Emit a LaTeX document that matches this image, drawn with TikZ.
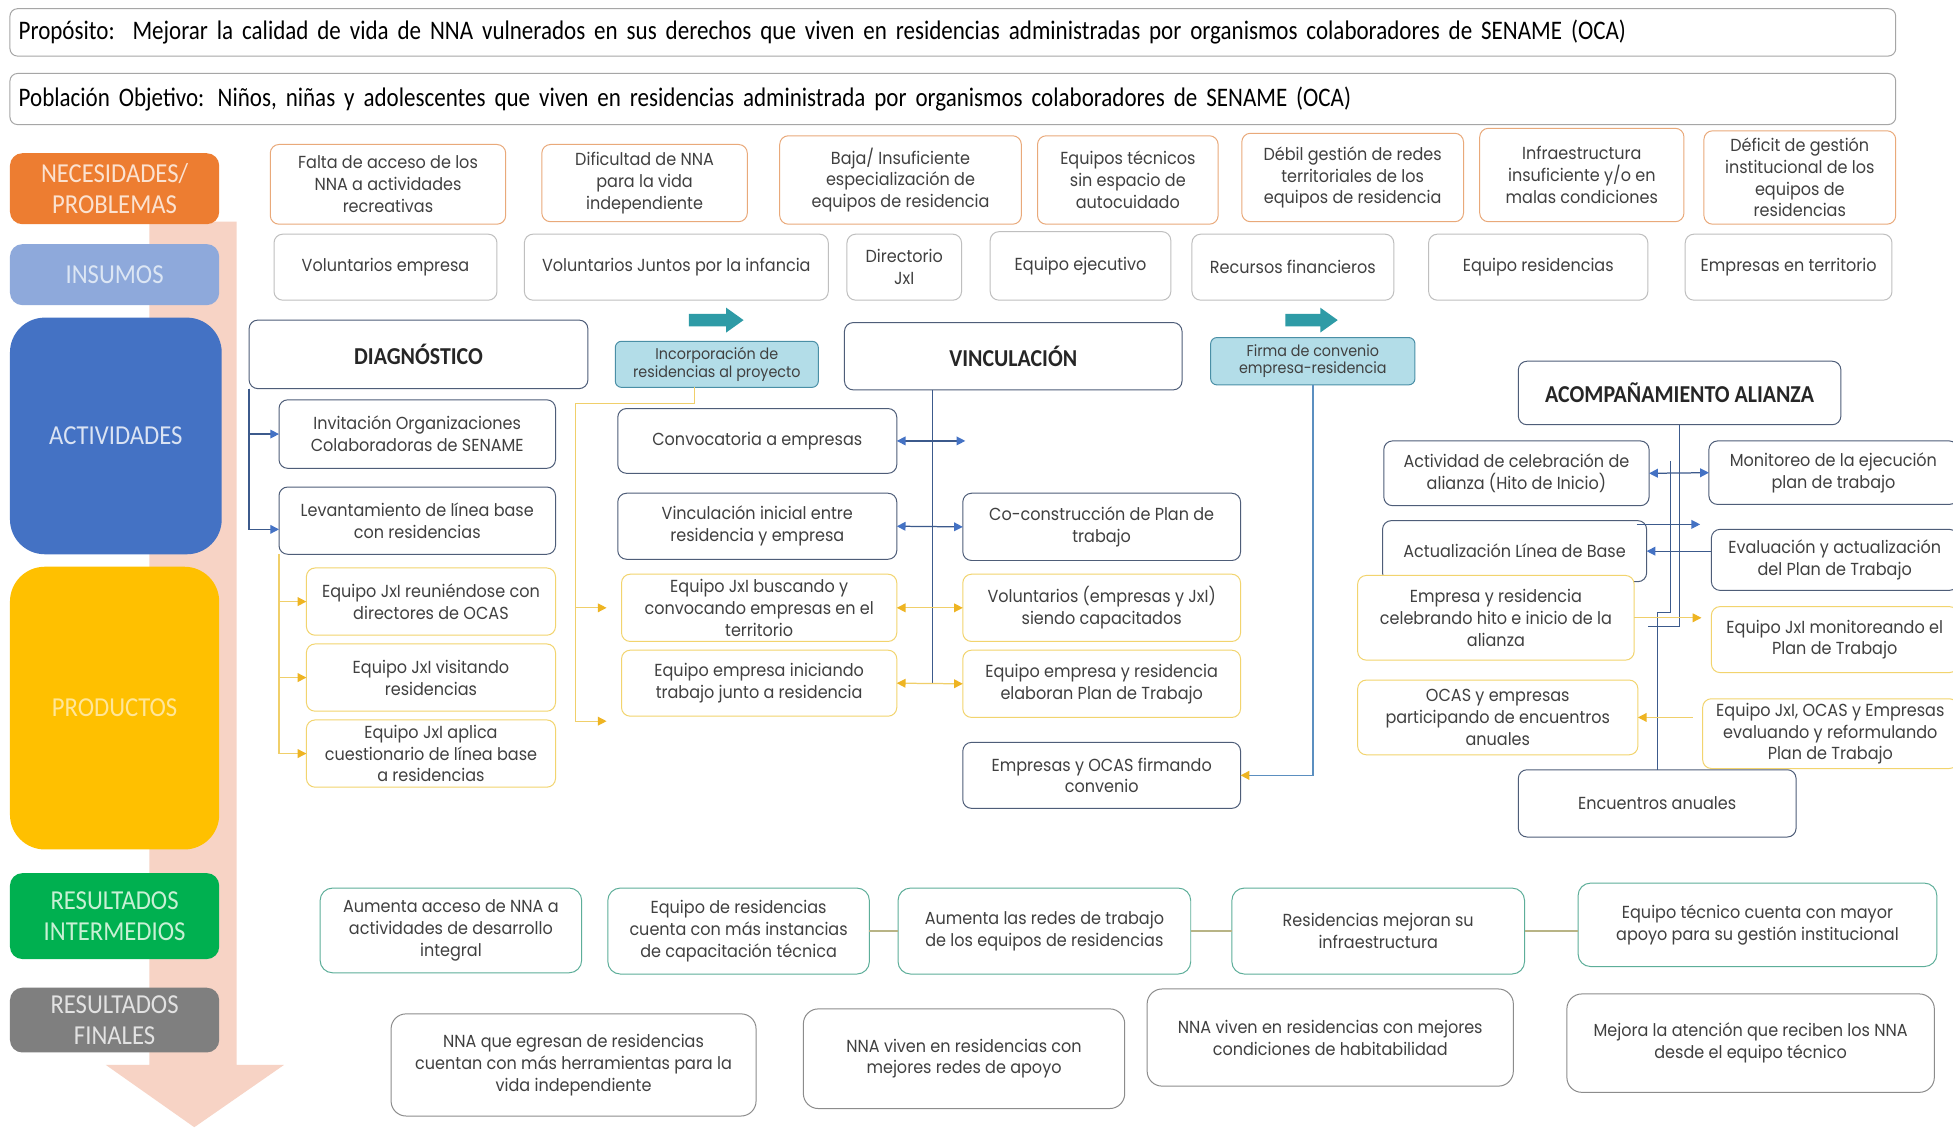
\documentclass[tikz,border=0pt]{standalone}
\usepackage{fontspec}
\setmainfont{Poppins}[FakeStretch=0.92]
\newfontfamily\calf{Carlito}[FakeStretch=0.9]
\newfontfamily\calb{Carlito}[FakeStretch=0.86]
\usetikzlibrary{arrows.meta,calc}
\definecolor{txt}{HTML}{404040}
\definecolor{needc}{HTML}{E9A97A}
\definecolor{insc}{HTML}{BFBFBF}
\definecolor{actc}{HTML}{4E5D78}
\definecolor{prodc}{HTML}{F2D46E}
\definecolor{lbd}{HTML}{4A8FA6}
\definecolor{lbf}{HTML}{B3DDE8}
\definecolor{ric}{HTML}{5DAE99}
\definecolor{rfc}{HTML}{8C8C8C}
\definecolor{barc}{HTML}{A6A6A6}
\definecolor{cO}{HTML}{ED7D31}\definecolor{tO}{HTML}{FBE2D0}
\definecolor{cI}{HTML}{8EA9DB}\definecolor{tI}{HTML}{DCE6F4}
\definecolor{cA}{HTML}{4472C4}\definecolor{tA}{HTML}{DAE3F3}
\definecolor{cP}{HTML}{FFC000}\definecolor{tP}{HTML}{FFE699}
\definecolor{cG}{HTML}{00B050}\definecolor{tG}{HTML}{C8F0D4}
\definecolor{cF}{HTML}{7F7F7F}\definecolor{tF}{HTML}{E2E2E2}
\definecolor{pinkar}{HTML}{F7D3C5}
\definecolor{tealar}{HTML}{2E9BA6}
\definecolor{lnb}{HTML}{3C5A8C}
\definecolor{tipb}{HTML}{4472C4}
\definecolor{lny}{HTML}{F0CF6A}
\definecolor{tipy}{HTML}{EEB422}
\definecolor{lnl}{HTML}{5B8FC0}
\definecolor{lng}{HTML}{B8B486}
\newcommand\bx[7]{\node[#6,minimum width={(#4-#2)*1pt},minimum height={(#5-#3)*1pt}] (#1) at ({(#2+#4)/2},{(#3+#5)/2}) {#7};}
\begin{document}
\begin{tikzpicture}[x=1pt,y=-1pt,
  base/.style={draw, fill=white, rounded corners=7pt, inner sep=0pt, outer sep=0pt, align=center, text=txt, font=\fontsize{14}{17.5}\selectfont, line width=0.8pt},
  need/.style={base, draw=needc},
  ins/.style={base, draw=insc},
  actb/.style={base, draw=actc},
  prod/.style={base, draw=prodc},
  head/.style={base, draw=actc, font=\calf\bfseries\fontsize{19.5}{22}\selectfont, text=black!85},
  lbx/.style={base, draw=lbd, fill=lbf, rounded corners=5pt, font=\fontsize{12.5}{14}\selectfont},
  rib/.style={base, draw=ric, rounded corners=10pt},
  rfb/.style={base, draw=rfc, rounded corners=12pt},
  lab/.style={rounded corners=10pt, inner sep=0pt, outer sep=0pt, align=center, font=\calf\fontsize{22}{25}\selectfont},
  bar/.style={draw=barc, fill=white, rounded corners=6pt, line width=0.8pt, inner sep=0pt, outer sep=0pt, text=black, text width=1500pt, align=left, font=\calb\fontsize{21.5}{24}\selectfont},
  cb/.style={draw=lnb, line width=1pt},
  cy/.style={draw=lny, line width=1pt},
  cn/.style={draw=lnb, line width=0.9pt},
  cl/.style={draw=lnl, line width=1.2pt},
  cg/.style={draw=lng, line width=1.2pt},
  tb/.style={-{Triangle[length=7pt,width=7pt,color=tipb]}},
  tbb/.style={{Triangle[length=7pt,width=7pt,color=tipb]}-{Triangle[length=7pt,width=7pt,color=tipb]}},
  ty/.style={-{Triangle[length=7pt,width=7pt,color=tipy]}},
  tyy/.style={{Triangle[length=7pt,width=7pt,color=tipy]}-{Triangle[length=7pt,width=7pt,color=tipy]}},
]
\clip (0,0) rectangle (1568,905);
\fill[white] (0,0) rectangle (1568,905);
% big pink arrow
\fill[pinkar] (120,178) -- (190,178) -- (190,855) -- (228,855) -- (156,905) -- (85,855) -- (120,855) -- cycle;
% top bars
\bx{prop}{8}{7}{1522}{45}{bar}{Propósito:\ \ Mejorar la calidad de vida de NNA vulnerados en sus derechos que viven en residencias administradas por organismos colaboradores de SENAME (OCA)}
\bx{pobl}{8}{59}{1522}{100}{bar}{Población Objetivo: Niños, niñas y adolescentes que viven en residencias administrada por organismos colaboradores de SENAME (OCA)}
% left labels
\bx{lnec}{8}{123}{176}{180}{lab,fill=cO,text=tO}{NECESIDADES/\\PROBLEMAS}
\bx{lins}{8}{196}{176}{245}{lab,fill=cI,text=tI}{INSUMOS}
\bx{lact}{8}{255}{178}{445}{lab,fill=cA,text=tA,rounded corners=28pt}{ACTIVIDADES}
\bx{lpro}{8}{455}{176}{682}{lab,fill=cP,text=tP,rounded corners=28pt}{PRODUCTOS}
\bx{lri}{8}{701}{176}{770}{lab,fill=cG,text=tG}{RESULTADOS\\INTERMEDIOS}
\bx{lrf}{8}{793}{176}{845}{lab,fill=cF,text=tF}{RESULTADOS\\FINALES}
% needs
\bx{n1}{217}{116}{406}{180}{need}{Falta de acceso de los\\NNA a actividades\\recreativas}
\bx{n2}{435}{116}{600}{178}{need}{Dificultad de NNA\\para la vida\\independiente}
\bx{n3}{626}{109}{820}{180}{need}{Baja/ Insuficiente\\especialización de\\equipos de residencia}
\bx{n4}{833}{109}{978}{180}{need}{Equipos técnicos\\sin espacio de\\autocuidado}
\bx{n5}{997}{107}{1175}{178}{need}{Débil gestión de redes\\territoriales de los\\equipos de residencia}
\bx{n6}{1188}{103}{1352}{178}{need}{Infraestructura\\insuficiente y/o en\\malas condiciones}
\bx{n7}{1368}{105}{1522}{180}{need}{Déficit de gestión\\institucional de los\\equipos de\\residencias}
% insumos
\bx{i1}{220}{188}{399}{241}{ins}{Voluntarios empresa}
\bx{i2}{421}{188}{665}{241}{ins}{Voluntarios Juntos por la infancia}
\bx{i3}{680}{188}{772}{241}{ins}{Directorio\\JxI}
\bx{i4}{795}{186}{940}{241}{ins}{Equipo ejecutivo}
\bx{i5}{957}{188}{1119}{241}{ins}{Recursos financieros}
\bx{i6}{1147}{188}{1323}{241}{ins}{Equipo residencias}
\bx{i7}{1353}{188}{1519}{241}{ins}{Empresas en territorio}
% headings
\bx{diag}{200}{257}{472}{312}{head}{DIAGNÓSTICO}
\bx{vinc}{678}{259}{949}{313}{head}{VINCULACIÓN}
\bx{acom}{1219}{290}{1478}{341}{head}{ACOMPAÑAMIENTO ALIANZA}
% teal arrows
\fill[tealar] (553,252) -- (583,252) -- (583,247) -- (597,257) -- (583,267) -- (583,262) -- (553,262) -- cycle;
\fill[tealar] (1032,252) -- (1060,252) -- (1060,247) -- (1074,257) -- (1060,267) -- (1060,262) -- (1032,262) -- cycle;
\bx{inc}{494}{274}{657}{311}{lbx}{Incorporación de\\residencias al proyecto}
\bx{fir}{972}{271}{1136}{309}{lbx}{Firma de convenio\\empresa-residencia}
% diagnostico
\bx{inv}{224}{321}{446}{376}{actb}{Invitación Organizaciones\\Colaboradoras de SENAME}
\bx{lev}{224}{391}{446}{445}{actb}{Levantamiento de línea base\\con residencias}
\bx{reu}{246}{456}{446}{510}{prod}{Equipo JxI reuniéndose con\\directores de OCAS}
\bx{vis}{246}{517}{446}{571}{prod}{Equipo JxI visitando\\residencias}
\bx{apl}{246}{578}{446}{632}{prod}{Equipo JxI aplica\\cuestionario de línea base\\a residencias}
% vinculacion
\bx{conv}{496}{328}{720}{380}{actb}{Convocatoria a empresas}
\bx{vini}{496}{396}{720}{449}{actb}{Vinculación inicial entre\\residencia y empresa}
\bx{bus}{499}{461}{720}{515}{prod}{Equipo JxI buscando y\\convocando empresas en el\\territorio}
\bx{emi}{499}{522}{720}{575}{prod}{Equipo empresa iniciando\\trabajo junto a residencia}
\bx{coc}{773}{396}{996}{450}{actb}{Co-construcción de Plan de\\trabajo}
\bx{vol}{773}{461}{996}{515}{prod}{Voluntarios (empresas y JxI)\\siendo capacitados}
\bx{ela}{773}{522}{996}{576}{prod}{Equipo empresa y residencia\\elaboran Plan de Trabajo}
\bx{fmd}{773}{596}{996}{649}{actb}{Empresas y OCAS firmando\\convenio}
% acompanamiento
\bx{cel}{1111}{354}{1324}{406}{actb}{Actividad de celebración de\\alianza (Hito de Inicio)}
\bx{alb}{1110}{418}{1322}{467}{actb}{Actualización Línea de Base}
\bx{emr}{1090}{462}{1312}{530}{prod}{Empresa y residencia\\celebrando hito e inicio de la\\alianza}
\bx{ocs}{1090}{546}{1315}{606}{prod}{OCAS y empresas\\participando de encuentros\\anuales}
\bx{mon}{1372}{354}{1572}{405}{actb}{Monitoreo de la ejecución\\plan de trabajo}
\bx{eva}{1374}{425}{1572}{474}{actb}{Evaluación y actualización\\del Plan de Trabajo}
\bx{jmo}{1374}{487}{1572}{540}{prod}{Equipo JxI monitoreando el\\Plan de Trabajo}
\bx{jev}{1367}{561}{1572}{617}{prod}{Equipo JxI, OCAS y Empresas\\evaluando y reformulando\\Plan de Trabajo}
\bx{enc}{1219}{618}{1442}{672}{actb}{Encuentros anuales}
% results
\bx{r1}{257}{713}{467}{781}{rib}{Aumenta acceso de NNA a\\actividades de desarrollo\\integral}
\bx{r2}{488}{713}{698}{782}{rib}{Equipo de residencias\\cuenta con más instancias\\de capacitación técnica}
\bx{r3}{721}{713}{956}{782}{rib}{Aumenta las redes de trabajo\\de los equipos de residencias}
\bx{r4}{989}{713}{1224}{782}{rib}{Residencias mejoran su\\infraestructura}
\bx{r5}{1267}{709}{1555}{776}{rib}{Equipo técnico cuenta con mayor\\apoyo para su gestión institucional}
\bx{f1}{314}{814}{607}{896}{rfb}{NNA que egresan de residencias\\cuentan con más herramientas para la\\vida independiente}
\bx{f2}{645}{810}{903}{890}{rfb}{NNA viven en residencias con\\mejores redes de apoyo}
\bx{f3}{921}{794}{1215}{872}{rfb}{NNA viven en residencias con mejores\\condiciones de habitabilidad}
\bx{f4}{1258}{798}{1553}{877}{rfb}{Mejora la atención que reciben los NNA\\desde el equipo técnico}
% connectors: diagnostico
\draw[cb,tb] (diag.south west) |- (inv.west);
\draw[cb,tb] (diag.south west) |- ($(lev.west)+(0,7)$);
\draw[cy,ty] (lev.south west) |- (reu.west);
\draw[cy,ty] (lev.south west) |- (vis.west);
\draw[cy,ty] (lev.south west) |- (apl.west);
% connectors: incorporacion
\coordinate (yj) at (462,324);
\coordinate (ye) at (487,579);
\draw[cy] ($(inc.south)+(-18,0)$) |- (yj);
\draw[cy,ty] (yj) |- ($(bus.west)+(-12,0)$);
\draw[cy,ty] (yj) |- (ye);
% connectors: vinculacion
\coordinate (vj) at ($(vinc.south)+(-65,0)$);
\draw[cn] (vj) -- (vj |- emi.east);
\draw[cb,tbb] (conv.east) -- ++(55,0);
\draw[cb,tbb] (vini.east) -- (coc.west);
\draw[cy,tyy] (bus.east) -- (vol.west);
\draw[cy,tyy] (emi.east) -- (ela.west);
\draw[cl,ty] (fir.south) |- (fmd.east);
% connectors: acompanamiento
\coordinate (aj) at (1341,370);
\coordinate (ak) at (1341,492);
\coordinate (ar1) at (1314,421);
\coordinate (ar2) at (1365,421);
\draw[cn] (acom.south) -- ++(0,162) -- ++(-25,0);
\draw[cn] (aj) -- (ak) -| (enc.north);
\draw[cb,tbb] (cel.east) -- (mon.west);
\draw[cb,tb] (ar1) -- (ar2);
\draw[cb,tb] (eva.west |- alb.east) -- (alb.east);
\draw[cy,ty] (emr.east) -- ++(54,0);
\draw[cy,ty] ($(jev.west |- ocs.east)+(-8,0)$) -- (ocs.east);
% results lines
\draw[cg] (r2.east) -- (r3.west);
\draw[cg] (r3.east) -- (r4.west);
\draw[cg] (r4.east) -- (r4.east -| r5.west);
\end{tikzpicture}
\end{document}
